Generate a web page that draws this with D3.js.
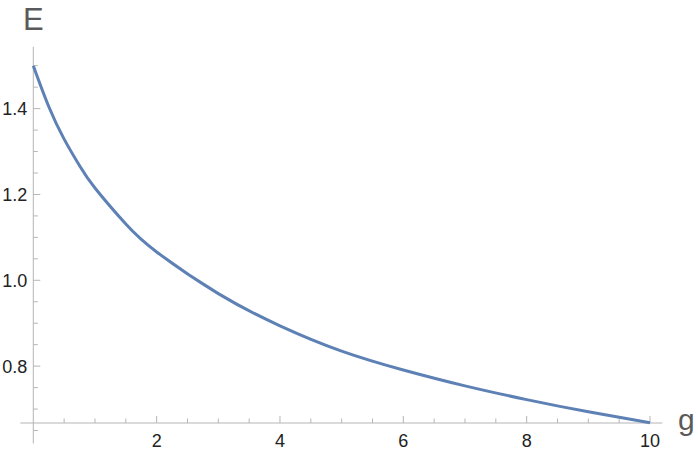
<!DOCTYPE html>
<html>
<head>
<meta charset="utf-8">
<script src="https://cdn.jsdelivr.net/npm/d3@7"></script>
<style>
  body { margin: 0; background: #fff; }
  svg { display: block; }
</style>
</head>
<body>
<div class="chart"></div>
<script>
// values
var gVals = [0, 0.25, 0.5, 0.75, 1, 1.5, 2, 3, 4, 5, 6, 7, 8, 9, 10];
var eVals = [1.5, 1.405, 1.329, 1.267, 1.215, 1.131, 1.066, 0.969, 0.894, 0.835, 0.791, 0.754, 0.722, 0.6935, 0.668];
var xTicks = [2, 4, 6, 8, 10];
var yTicks = [0.8, 1.0, 1.2, 1.4];

const width = 698, height = 457;

var svg = d3.select('.chart')
            .append('svg')
            .attr('width', width)
            .attr('height', height);

var x = d3.scaleLinear().domain([0, 10]).range([33.3, 650]);
var y = d3.scaleLinear().domain([0.6675, 1.5]).range([423, 65.7]);

const axisColor = '#b5b5b5';
const tickFont = 'Liberation Sans, Arial, sans-serif';

// minor ticks
var xMinor = d3.range(0.5, 10.01, 0.5);
var yMinor = d3.range(0.65, 1.541, 0.05);

// x axis
var xAxis = svg.append('g').attr('transform', `translate(0, ${y(0.6675)})`);
xAxis.append('line')
    .attr('x1', x(-0.21)).attr('x2', x(10.2))
    .attr('stroke', axisColor).attr('stroke-width', 1);
xAxis.selectAll('.minor')
    .data(xMinor)
    .enter()
    .append('line')
    .attr('x1', d => x(d)).attr('x2', d => x(d))
    .attr('y1', 0)
    .attr('y2', d => xTicks.indexOf(d) >= 0 ? -7 : -4.5)
    .attr('stroke', axisColor).attr('stroke-width', 1);
xAxis.selectAll('text')
    .data(xTicks)
    .enter()
    .append('text')
    .attr('x', d => x(d))
    .attr('y', 24)
    .attr('text-anchor', 'middle')
    .style('font-family', tickFont)
    .style('font-size', '18px')
    .style('fill', '#222')
    .text(d => d);

// y axis
var yAxis = svg.append('g').attr('transform', `translate(${x(0)}, 0)`);
yAxis.append('line')
    .attr('y1', y(1.544)).attr('y2', y(0.62))
    .attr('stroke', axisColor).attr('stroke-width', 1);
yAxis.selectAll('.minor')
    .data(yMinor)
    .enter()
    .append('line')
    .attr('y1', d => y(d)).attr('y2', d => y(d))
    .attr('x1', 0)
    .attr('x2', d => yTicks.some(t => Math.abs(t - d) < 1e-6) ? 7 : 4.5)
    .attr('stroke', axisColor).attr('stroke-width', 1);
yAxis.selectAll('text')
    .data(yTicks)
    .enter()
    .append('text')
    .attr('x', -6)
    .attr('y', d => y(d))
    .attr('dy', '0.36em')
    .attr('text-anchor', 'end')
    .style('font-family', tickFont)
    .style('font-size', '18px')
    .style('fill', '#222')
    .text(d => d.toFixed(1));

// axis labels
svg.append('text')
    .attr('x', 23).attr('y', 29.5)
    .style('font-family', tickFont)
    .style('font-size', '31px')
    .style('fill', '#5a5a5a')
    .text('E');
svg.append('text')
    .attr('x', 678).attr('y', 430)
    .style('font-family', tickFont)
    .style('font-size', '30px')
    .style('fill', '#5a5a5a')
    .text('g');

// curve
var line = d3.line()
    .x(d => x(d[0]))
    .y(d => y(d[1]))
    .curve(d3.curveNatural);

svg.append('path')
    .datum(gVals.map((g, i) => [g, eVals[i]]))
    .attr('d', line)
    .attr('fill', 'none')
    .attr('stroke', '#5e81b5')
    .attr('stroke-width', 3);
</script>
</body>
</html>
